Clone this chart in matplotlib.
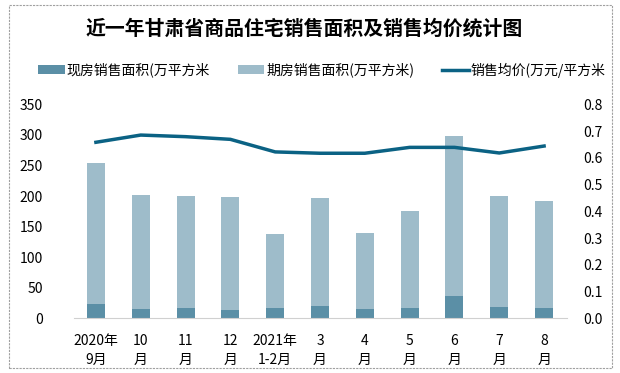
import matplotlib
matplotlib.use("Agg")
import matplotlib.pyplot as plt
from matplotlib.patches import Rectangle
import numpy as np

plt.rcParams['font.family'] = ['Noto Sans CJK SC', 'DejaVu Sans']

categories = ["2020年\n9月", "10\n月", "11\n月", "12\n月", "2021年\n1-2月", "3\n月", "4\n月", "5\n月", "6\n月", "7\n月", "8\n月"]
xianfang = [23, 15, 17, 14, 17, 20, 15, 17, 36, 18, 17]
qifang = [231, 187, 183, 185, 121, 177, 124, 159, 262, 182, 175]
price = [0.658, 0.685, 0.679, 0.669, 0.622, 0.617, 0.617, 0.639, 0.639, 0.618, 0.644]

c_dark = "#5B8FA6"
c_light = "#9EBCCA"
c_line = "#0B6284"

W, H = 620, 373
fig = plt.figure(figsize=(W/100, H/100), dpi=100)
fig.patches.append(Rectangle((9/W, 5/H), 603/W, 363/H, transform=fig.transFigure,
                             fill=False, edgecolor="#A0A0A0", linewidth=0.8, linestyle=(0, (2, 1))))

left, right, bottom, top = 73.5, 566.5, 318.3, 104.3
ax = fig.add_axes([left/W, 1-bottom/H, (right-left)/W, (bottom-top)/H])
x = np.arange(len(categories))
ax.bar(x, xianfang, width=0.4, color=c_dark, label="现房销售面积(万平方米", zorder=2)
ax.bar(x, qifang, width=0.4, bottom=xianfang, color=c_light, label="期房销售面积(万平方米)", zorder=2)
ax.set_xlim(-0.5, len(categories)-0.5)
ax.set_ylim(0, 350)
ax.set_yticks(np.arange(0, 351, 50))
ax.set_xticks(x)
ax.set_xticklabels(categories, fontsize=10, linespacing=1.45)
for s in ["top", "right", "left"]:
    ax.spines[s].set_visible(False)
ax.spines["bottom"].set_color("#D0D0D0")
ax.tick_params(axis="both", length=0, labelsize=10)
ax.tick_params(axis="x", pad=11)
ax.tick_params(axis="y", pad=22)

ax2 = ax.twinx()
ax2.plot(x, price, color=c_line, linewidth=2.5, label="销售均价(万元/平方米", zorder=3)
ax2.set_ylim(0, 0.8)
ax2.set_yticks(np.arange(0, 0.81, 0.1))
ax2.set_yticklabels([f"{v:.1f}" for v in np.arange(0, 0.81, 0.1)])
for s in ["top", "right", "left", "bottom"]:
    ax2.spines[s].set_visible(False)
ax2.tick_params(axis="y", length=0, labelsize=10, pad=12)

fig.text(304/W, 1-28/H, "近一年甘肃省商品住宅销售面积及销售均价统计图", ha="center", va="center",
         fontsize=14.3, fontweight="bold")

h1, l1 = ax.get_legend_handles_labels()
h2, l2 = ax2.get_legend_handles_labels()
fig.legend(h1 + h2, l1 + l2, loc="center", bbox_to_anchor=(322/W, 1-70/H), ncol=3, frameon=False,
           fontsize=10, handlelength=1.9, handleheight=0.6, handletextpad=0.15, columnspacing=2.0)

fig.savefig("out.png", dpi=100)
